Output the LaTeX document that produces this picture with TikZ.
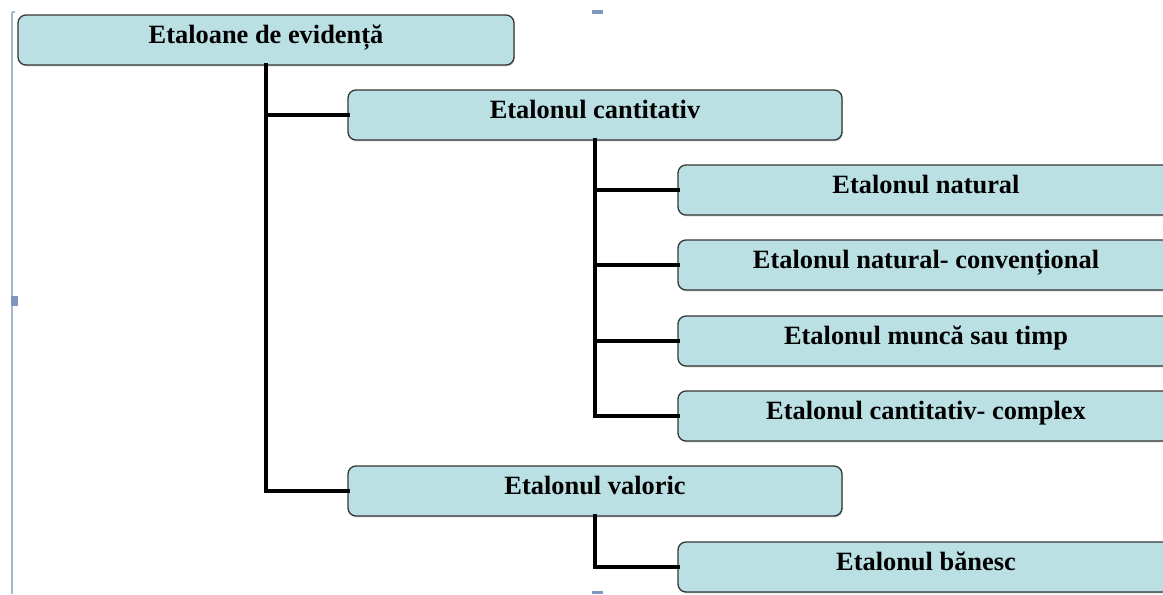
\documentclass[tikz,border=0pt]{standalone}
\usepackage{fontspec}
\setmainfont{Liberation Serif}
\usetikzlibrary{shadows}
\definecolor{boxfill}{RGB}{186,224,228}
\definecolor{boxline}{RGB}{55,55,55}
\definecolor{handle}{RGB}{128,150,190}
\begin{document}
\begin{tikzpicture}[x=0.75pt,y=-0.75pt,
  stepbox/.style={draw=boxline, line width=1pt, fill=boxfill,
    rounded corners=6pt, inner sep=0pt,
    minimum width=#1*0.75pt,
    text height=21pt, text depth=16.5pt,
    font=\fontsize{19.8}{24}\selectfont\bfseries,
    drop shadow={opacity=0.4, shadow xshift=0.6pt, shadow yshift=-1pt}},
  conn/.style={line width=3.4pt, black, line cap=rect}]
\useasboundingbox (0,0) rectangle (1163,594);
\clip (0,0) rectangle (1163,594);

% frame marks along the left edge and the handles
\draw[handle!70, line width=1pt] (12,12) -- (12,594);
\draw[handle!70, line width=1pt] (12,12) -- (15,12);
\fill[handle] (592,10) rectangle (603,14);
\fill[handle] (11,296) rectangle (18,306);
\fill[handle] (592,591) rectangle (603,594);

% boxes
\node[stepbox=496] (root)    at (266,40)  {Etaloane de evidență};
\node[stepbox=494] (cant)    at (595,115) {Etalonul cantitativ};
\node[stepbox=496] (nat)     at (926,190) {Etalonul natural};
\node[stepbox=496] (natconv) at (926,265) {Etalonul natural- convențional};
\node[stepbox=496] (munca)   at (926,341) {Etalonul muncă sau timp};
\node[stepbox=496] (complex) at (926,416) {Etalonul cantitativ- complex};
\node[stepbox=494] (valoric) at (595,491) {Etalonul valoric};
\node[stepbox=496] (banesc)  at (926,567) {Etalonul bănesc};

% connectors
\draw[conn] (root.south) -- (root.south |- valoric.west) -- (valoric.west);
\draw[conn] (root.south |- cant.west) -- (cant.west);
\draw[conn] (cant.south) -- (cant.south |- complex.west) -- (complex.west);
\draw[conn] (cant.south |- nat.west) -- (nat.west);
\draw[conn] (cant.south |- natconv.west) -- (natconv.west);
\draw[conn] (cant.south |- munca.west) -- (munca.west);
\draw[conn] (valoric.south) -- (valoric.south |- banesc.west) -- (banesc.west);
\end{tikzpicture}
\end{document}
